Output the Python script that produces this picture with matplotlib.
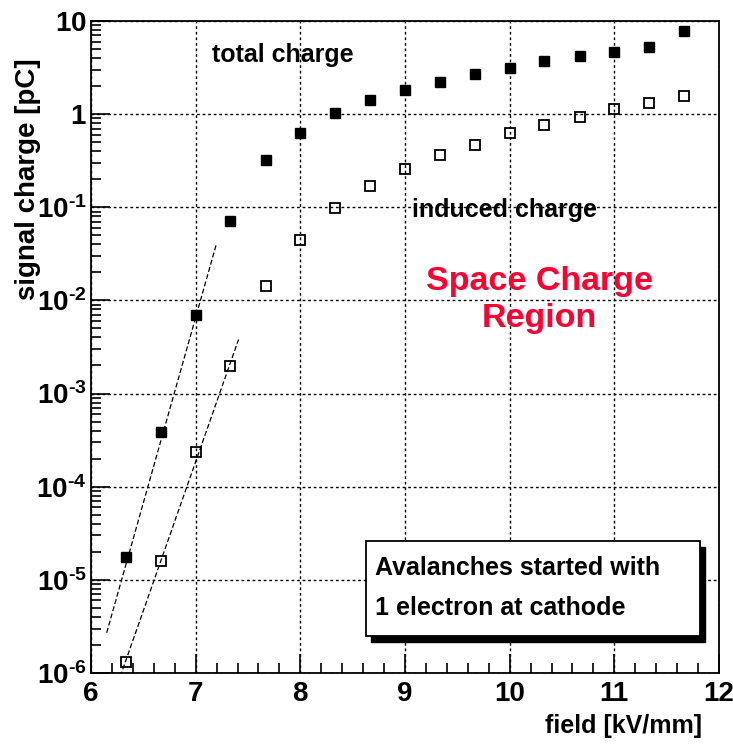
import matplotlib
matplotlib.use('Agg')
import matplotlib.pyplot as plt
from matplotlib import font_manager
from matplotlib.patches import Rectangle
from matplotlib.ticker import FixedLocator, MultipleLocator, LogLocator, NullFormatter

# ── data ──
field = [6.33, 6.67, 7.0, 7.33, 7.67, 8.0, 8.33, 8.67, 9.0,
         9.33, 9.67, 10.0, 10.33, 10.67, 11.0, 11.33, 11.67]
total_charge = [1.75e-5, 3.9e-4, 6.95e-3, 0.071, 0.32, 0.63, 1.02, 1.42, 1.82,
                2.2, 2.7, 3.1, 3.7, 4.2, 4.6, 5.3, 7.8]
induced_charge = [1.3e-6, 1.6e-5, 2.35e-4, 1.97e-3, 0.0143, 0.044, 0.098, 0.169, 0.257,
                  0.364, 0.466, 0.63, 0.76, 0.93, 1.13, 1.32, 1.56]

# exponential fits in the low-field region
fit_total_x = [6.15, 7.2]
fit_total_y = [2.7e-6, 0.041]
fit_induced_x = [6.28, 7.41]
fit_induced_y = [9.2e-7, 3.8e-3]

x_ticks = [6, 7, 8, 9, 10, 11, 12]
x_tick_labels = ['6', '7', '8', '9', '10', '11', '12']
y_ticks = [1e-6, 1e-5, 1e-4, 1e-3, 1e-2, 1e-1, 1, 10]
y_tick_labels = [r'$10^{\text{-}6}$', r'$10^{\text{-}5}$', r'$10^{\text{-}4}$',
                 r'$10^{\text{-}3}$', r'$10^{\text{-}2}$', r'$10^{\text{-}1}$',
                 r'$1$', r'$10$']

box_lines = ['Avalanches started with', '1 electron at cathode']
region_lines = ['Space Charge', 'Region']

# ── fonts ──
installed = {f.name for f in font_manager.fontManager.ttflist}
if 'Liberation Sans Narrow' in installed:
    NARROW, NSIZE = 'Liberation Sans Narrow', 22
else:
    NARROW, NSIZE = 'Liberation Sans', 18

plt.rcParams['font.family'] = ['Liberation Sans', 'DejaVu Sans']
plt.rcParams['mathtext.fontset'] = 'custom'
plt.rcParams['mathtext.rm'] = 'Liberation Sans:bold'
plt.rcParams['mathtext.it'] = 'Liberation Sans:bold'
plt.rcParams['mathtext.bf'] = 'Liberation Sans:bold'

fig = plt.figure(figsize=(7.33, 7.46), dpi=100)
ax = fig.add_axes([0.1241, 0.0979, 0.8568, 0.874])

ax.set_yscale('log')
ax.set_xlim(6, 12)
ax.set_ylim(1e-6, 10)

ax.plot(fit_total_x, fit_total_y, color='black', lw=0.9, ls=(0, (4, 2)), zorder=3)
ax.plot(fit_induced_x, fit_induced_y, color='black', lw=0.9, ls=(0, (4, 2)), zorder=3)

ax.plot(field, total_charge, ls='none', marker='s', ms=7.5,
        mfc='black', mec='black', zorder=4)
ax.plot(field, induced_charge, ls='none', marker='s', ms=7.2,
        mfc='none', mec='black', mew=1.3, zorder=4)

# ── axes styling (ROOT look) ──
ax.xaxis.set_major_locator(FixedLocator(x_ticks))
ax.set_xticklabels(x_tick_labels, fontsize=20, fontweight='bold')
ax.xaxis.set_minor_locator(MultipleLocator(0.2))
ax.yaxis.set_major_locator(FixedLocator(y_ticks))
ax.set_yticklabels(y_tick_labels, fontsize=20)
ax.yaxis.set_minor_locator(LogLocator(base=10, subs=range(2, 10), numticks=20))
ax.yaxis.set_minor_formatter(NullFormatter())

ax.tick_params(which='major', direction='in', length=14, width=1.2,
               top=False, right=False)
ax.tick_params(which='minor', direction='in', length=7, width=1.2,
               top=False, right=False)
ax.tick_params(axis='y', which='major', pad=3)
ax.tick_params(axis='x', which='major', pad=6)

ax.grid(True, which='major', color='black', lw=1.0, ls=(0, (2, 2)))
for s in ax.spines.values():
    s.set_linewidth(1.3)

# ── annotations ──
ax.text(7.155, 3.63, 'total charge', family=NARROW, fontsize=NSIZE,
        fontweight='bold', va='baseline', zorder=5)
ax.text(9.063, 0.0785, 'induced charge', family=NARROW, fontsize=NSIZE,
        fontweight='bold', va='baseline', zorder=5)
ax.text(10.284, 0.0129, region_lines[0], color='#ff0030', fontsize=24.5,
        fontweight='bold', ha='center', va='baseline', zorder=5)
ax.text(10.284, 0.00516, region_lines[1], color='#ff0030', fontsize=24.5,
        fontweight='bold', ha='center', va='baseline', zorder=5)

# legend-like box with drop shadow
bx0, by0, bw, bh = 0.438, 0.0567, 0.532, 0.1458
ax.add_patch(Rectangle((bx0 + 0.008, by0 - 0.0092), bw, bh, transform=ax.transAxes,
                       facecolor='black', edgecolor='black', zorder=6))
ax.add_patch(Rectangle((bx0, by0), bw, bh, transform=ax.transAxes,
                       facecolor='white', edgecolor='black', lw=1.3, zorder=7))
ax.text(0.452, 0.1503, box_lines[0], transform=ax.transAxes, family=NARROW,
        fontsize=NSIZE, fontweight='bold', va='baseline', zorder=8)
ax.text(0.452, 0.0890, box_lines[1], transform=ax.transAxes, family=NARROW,
        fontsize=NSIZE, fontweight='bold', va='baseline', zorder=8)

# axis titles, ROOT-style placement
fig.text(0.958, 0.0174, 'field [kV/mm]', family=NARROW, fontsize=NSIZE,
         fontweight='bold', ha='right', va='baseline')
fig.text(28 / 733, 1 - 300 / 746, 'signal charge [pC]', family=NARROW,
         fontsize=NSIZE + 2, fontweight='bold', rotation=90, ha='center', va='bottom')

fig.savefig('out.png', dpi=100)
